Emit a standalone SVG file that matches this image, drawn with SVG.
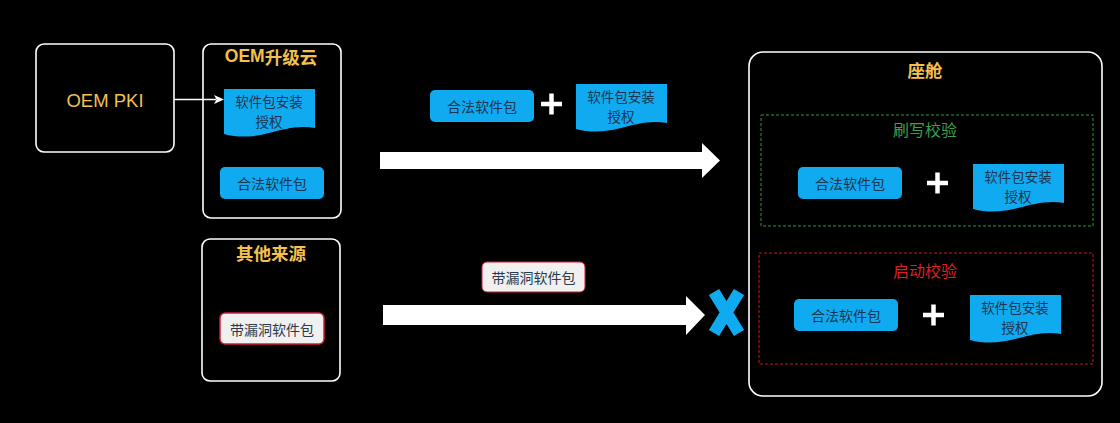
<svg xmlns="http://www.w3.org/2000/svg" xmlns:xlink="http://www.w3.org/1999/xlink" width="1120" height="423" viewBox="0 0 1120 423">
<defs>
<style>
text{font-family:"Noto Sans CJK SC","Liberation Sans",sans-serif;text-anchor:middle;dominant-baseline:central}
.frame{fill:#000;stroke:#fff;stroke-width:1.6}
.gold{fill:#f2c14e;font-size:17.5px;font-weight:bold}
.blue{fill:#10aaf0}
.lbl{fill:#1c3550;font-size:14px}
.lbl2{fill:#1c3550;font-size:13.5px}
.plus{stroke:#fff;stroke-width:4.5;fill:none}
</style>
<path id="doc" d="M0,0 H91 V39 C75,36 60,40 45,44 C30,48 15,49 0,45 Z" fill="#10aaf0"/>
</defs>
<rect width="1120" height="423" fill="#000"/>

<g id="oem-pki">
<rect class="frame" x="36" y="44" width="138" height="108" rx="8"/>
<text x="105" y="100" fill="#f2c14e" font-size="18.5" style="font-family:'Liberation Sans',Arial,sans-serif">OEM PKI</text>
</g>

<g id="oem-cloud">
<rect class="frame" x="203" y="44" width="138" height="174" rx="8"/>
<text class="gold" x="271" y="56"><tspan style="font-family:'Liberation Sans',sans-serif">OEM</tspan>升级云</text>
<g id="cloud-auth">
<use xlink:href="#doc" x="224" y="89"/>
<text class="lbl2" x="269" y="100.5">软件包安装</text>
<text class="lbl2" x="269" y="120.5">授权</text>
</g>
<g id="cloud-pkg">
<rect class="blue" x="220" y="167" width="104" height="32" rx="5"/>
<text class="lbl" x="272" y="183">合法软件包</text>
</g>
</g>

<g id="other-source">
<rect class="frame" x="202" y="239" width="138" height="142" rx="8"/>
<text class="gold" x="271" y="252">其他来源</text>
<g id="vuln-pkg">
<rect x="220" y="313" width="104" height="31" rx="5" fill="#f0f0f0" stroke="#d0203a" stroke-width="1.5"/>
<text x="272" y="328.5" fill="#2a3a4a" font-size="14">带漏洞软件包</text>
</g>
</g>

<g id="top-combo">
<rect class="blue" x="430" y="90" width="104" height="32" rx="5"/>
<text class="lbl" x="482" y="106">合法软件包</text>
<path class="plus" d="M541,104 H562 M551.5,93.5 V114.5"/>
<use xlink:href="#doc" x="576" y="84"/>
<text class="lbl2" x="621" y="95.5">软件包安装</text>
<text class="lbl2" x="621" y="115.5">授权</text>
</g>

<g id="vuln-label">
<rect x="482" y="262" width="103" height="30" rx="5" fill="#f0f0f0" stroke="#d0203a" stroke-width="1"/>
<text x="533.5" y="277" fill="#2a3a4a" font-size="14">带漏洞软件包</text>
</g>

<g id="block-x">
<path d="M714,292 L739,333 M739,292 L714,333" stroke="#10aaf0" stroke-width="12" stroke-linecap="butt"/>
</g>

<g id="cockpit">
<rect class="frame" x="749" y="52" width="353" height="344" rx="14" stroke-width="2"/>
<text class="gold" x="925" y="69">座舱</text>
</g>

<g id="flash-check">
<rect x="761" y="115" width="332" height="111" fill="none" stroke="#2a9a3a" stroke-width="1" stroke-dasharray="3,2"/>
<text x="925" y="129" fill="#3aa04c" font-size="16">刷写校验</text>
<rect class="blue" x="798" y="167" width="104" height="32" rx="5"/>
<text class="lbl" x="850" y="183">合法软件包</text>
<path class="plus" d="M927,183 H948 M937.5,172.5 V193.5"/>
<use xlink:href="#doc" x="973" y="164"/>
<text class="lbl2" x="1018" y="175.5">软件包安装</text>
<text class="lbl2" x="1018" y="195.5">授权</text>
</g>

<g id="boot-check">
<rect x="759" y="253" width="334" height="111" fill="none" stroke="#c01820" stroke-width="1" stroke-dasharray="3,2"/>
<text x="925" y="270" fill="#d82020" font-size="16">启动校验</text>
<rect class="blue" x="794" y="299" width="104" height="32" rx="5"/>
<text class="lbl" x="846" y="315">合法软件包</text>
<path class="plus" d="M923,315 H944 M933.5,304.5 V325.5"/>
<use xlink:href="#doc" x="970" y="295"/>
<text class="lbl2" x="1015" y="306.5">软件包安装</text>
<text class="lbl2" x="1015" y="326.5">授权</text>
</g>

<g id="connectors">
<line x1="174" y1="99.5" x2="216" y2="99.5" stroke="#fff" stroke-width="1.5"/>
<path d="M214,95 L224,99.5 L214,104 L216.5,99.5 Z" fill="#fff"/>
<path d="M380,152 H702 V143 L720,160.5 L702,178 V169 H380 Z" fill="#fff"/>
<path d="M383,305 H686 V296 L705,315 L686,335 V325 H383 Z" fill="#fff"/>
</g>
</svg>
